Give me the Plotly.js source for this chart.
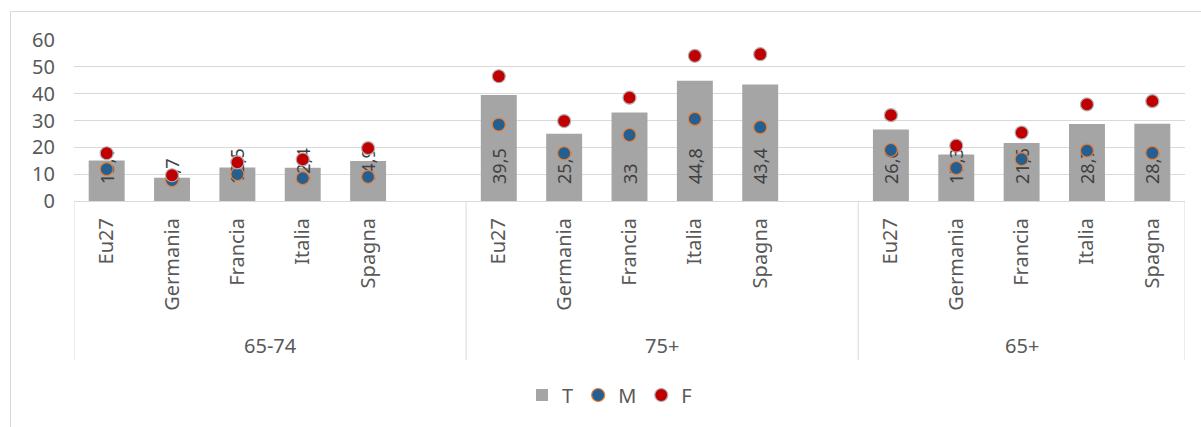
<!DOCTYPE html>
<html><head><meta charset="utf-8">
<script src="https://cdn.plot.ly/plotly-3.0.1.min.js"></script>
<style>
html,body{margin:0;padding:0;background:#fff;overflow:hidden}
#chart{position:absolute;left:0;top:0;width:1201px;height:427px}
#frame{position:absolute;left:10px;top:11px;width:1400px;height:600px;border:1px solid #d9d9d9;pointer-events:none;z-index:5}
</style></head><body>
<div id="chart"></div><div id="frame"></div>
<script>
// ---- data ----
const groups = ['65-74', '75+', '65+'];
const countries = ['Eu27', 'Germania', 'Francia', 'Italia', 'Spagna'];
const T_6574 = [15.1, 8.7, 12.5, 12.4, 14.9];
const M_6574 = [11.9, 7.8, 10.0, 8.5, 9.0];
const F_6574 = [17.8, 9.6, 14.4, 15.5, 19.7];
const T_75 = [39.5, 25.1, 33, 44.8, 43.4];
const M_75 = [28.5, 17.8, 24.6, 30.6, 27.5];
const F_75 = [46.5, 29.8, 38.5, 54.1, 54.7];
const T_65 = [26.6, 17.3, 21.6, 28.7, 28.8];
const M_65 = [19.0, 12.3, 15.6, 18.8, 17.9];
const F_65 = [32.0, 20.6, 25.5, 36.0, 37.2];

const Tall = [T_6574, T_75, T_65];
const Mall = [M_6574, M_75, M_65];
const Fall = [F_6574, F_75, F_65];

// slot positions: each group uses 6 slots (last one empty) except the last
const xs = [], tickText = [], T = [], M = [], F = [];
groups.forEach((g, gi) => {
  countries.forEach((c, ci) => {
    xs.push(gi * 6 + ci);
    tickText.push(c);
    T.push(Tall[gi][ci]);
    M.push(Mall[gi][ci]);
    F.push(Fall[gi][ci]);
  });
});
const tLabels = T.map(v => '\u00a0\u00a0\u00a0' + String(v).replace('.', ','));

const FONT = 'Noto Sans, Open Sans, sans-serif';
const TXT = '#595959';

const traces = [
  {type: 'bar', name: 'T', x: xs, y: T, width: 0.55,
   marker: {color: '#a5a5a5'},
   text: tLabels, textposition: 'inside', insidetextanchor: 'start',
   textangle: -90, constraintext: 'none',
   insidetextfont: {family: FONT, size: 18, color: '#404040'},
   hoverinfo: 'skip'},
  {type: 'scatter', mode: 'markers', name: 'M', x: xs, y: M,
   marker: {color: '#255e91', size: 13, line: {color: '#ed7d31', width: 1.2}}},
  {type: 'scatter', mode: 'markers', name: 'F', x: xs, y: F,
   marker: {color: '#c00000', size: 13, line: {color: '#b0b0b0', width: 1.2}}}
];

const groupCenters = [2.5, 8.5, 14];
const seps = [-0.5, 5.5, 11.5, 16.5];
const plotH = 161;
const boxBottom = (201 - 360) / plotH;

const shapes = seps.map(s => ({type: 'line', xref: 'x', yref: 'paper',
  x0: s, x1: s, y0: 0, y1: boxBottom, line: {color: '#d9d9d9', width: 1}}));

const annotations = groups.map((g, i) => ({
  xref: 'x', yref: 'paper', x: groupCenters[i], y: (201 - 345) / plotH,
  text: g, showarrow: false, xanchor: 'center', yanchor: 'middle',
  font: {family: FONT, size: 20, color: TXT}}));

const layout = {
  width: 1201, height: 427,
  margin: {l: 74, r: 16, t: 40, b: 226},
  paper_bgcolor: 'rgba(0,0,0,0)', plot_bgcolor: 'rgba(0,0,0,0)',
  font: {family: FONT, size: 20, color: TXT},
  showlegend: true,
  legend: {orientation: 'h', x: 0.482, y: (201 - 395) / plotH,
    xanchor: 'center', yanchor: 'middle', font: {family: FONT, size: 20, color: TXT},
    itemwidth: 30, tracegroupgap: 0},
  xaxis: {range: [-0.5, 16.5], tickmode: 'array', tickvals: xs, ticktext: tickText,
    tickangle: -90, showgrid: false, zeroline: false, showline: false, ticks: '',
    ticklabelstandoff: 12, tickfont: {family: FONT, size: 20, color: TXT}, fixedrange: true},
  yaxis: {range: [0, 60], dtick: 10, tick0: 0, showgrid: true, gridcolor: '#d9d9d9', gridwidth: 1,
    zeroline: true, zerolinecolor: '#d9d9d9', zerolinewidth: 1, showline: false, ticks: '',
    ticklabelstandoff: 18, tickfont: {family: FONT, size: 20, color: TXT}, fixedrange: true},
  bargap: 0.45,
  shapes: shapes,
  annotations: annotations
};

Plotly.newPlot('chart', traces, layout, {displayModeBar: false, staticPlot: true});
</script>
</body></html>
